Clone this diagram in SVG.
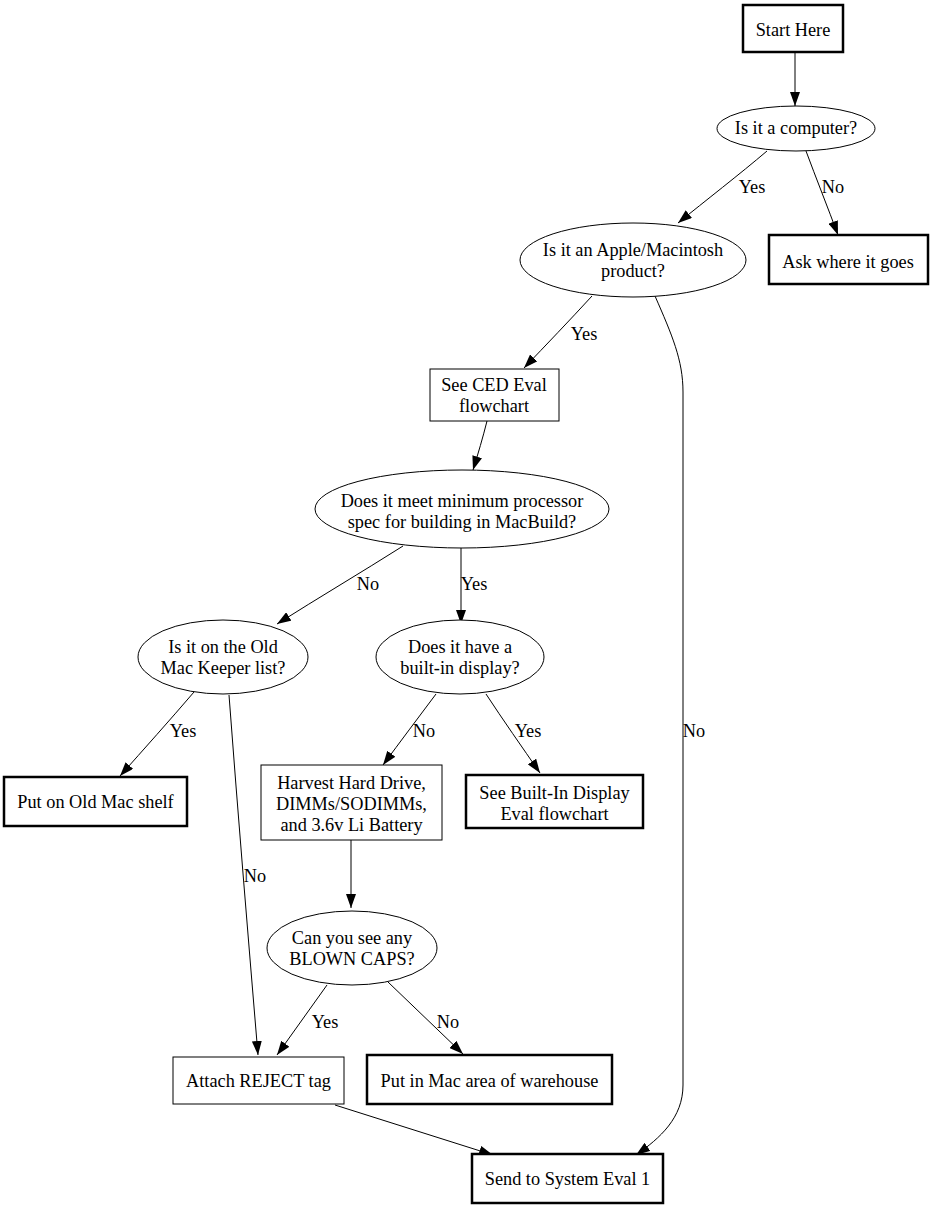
<svg xmlns="http://www.w3.org/2000/svg" width="933" height="1208" viewBox="0 0 933 1208">
<style>
text{font-family:"Liberation Serif","Times New Roman",serif;font-size:18.3px;fill:#000;text-anchor:middle}
.n{fill:#fff;stroke:#000;stroke-width:1}
.t{fill:#fff;stroke:#000;stroke-width:2.5}
.e{fill:none;stroke:#000;stroke-width:1}
</style>
<defs>
<marker id="ah" markerUnits="userSpaceOnUse" markerWidth="14" markerHeight="10" refX="14" refY="5" orient="auto">
<path d="M0,0 L14,5 L0,10 z" fill="#000"/>
</marker>
</defs>
<rect width="933" height="1208" fill="#fff"/>
<g id="edges">
<path class="e" marker-end="url(#ah)" d="M795,52 L795,106"/>
<path class="e" marker-end="url(#ah)" d="M767,151 C740,174 705,201 678,223"/>
<text x="752" y="193">Yes</text>
<path class="e" marker-end="url(#ah)" d="M806,151 C816,178 828,208 838,235"/>
<text x="833" y="193">No</text>
<path class="e" marker-end="url(#ah)" d="M592,296 C570,320 546,345 524,368"/>
<text x="584" y="340">Yes</text>
<path class="e" marker-end="url(#ah)" d="M655,296 C672,335 683,360 683,392 L683,1085 C683,1118 660,1138 636,1155"/>
<text x="694" y="737">No</text>
<path class="e" marker-end="url(#ah)" d="M487,421 C483,437 478,454 473,470"/>
<path class="e" marker-end="url(#ah)" d="M403,546 C362,572 318,598 277,624"/>
<text x="368" y="590">No</text>
<path class="e" marker-end="url(#ah)" d="M461,548 L461,624"/>
<text x="474" y="590">Yes</text>
<path class="e" marker-end="url(#ah)" d="M194,692 C170,720 144,749 120,776"/>
<text x="183" y="737">Yes</text>
<path class="e" marker-end="url(#ah)" d="M229,695 C238,815 248,935 258,1055"/>
<text x="255" y="882">No</text>
<path class="e" marker-end="url(#ah)" d="M436,694 C418,718 400,742 383,765"/>
<text x="424" y="737">No</text>
<path class="e" marker-end="url(#ah)" d="M486,694 C503,720 522,747 540,773"/>
<text x="528" y="737">Yes</text>
<path class="e" marker-end="url(#ah)" d="M351,840 L351,908"/>
<path class="e" marker-end="url(#ah)" d="M327,985 C310,1008 294,1032 277,1055"/>
<text x="325" y="1028">Yes</text>
<path class="e" marker-end="url(#ah)" d="M388,982 C413,1006 438,1030 463,1054"/>
<text x="448" y="1028">No</text>
<path class="e" marker-end="url(#ah)" d="M335,1105 C388,1122 440,1138 493,1155"/>
</g>
<g id="start"><rect class="t" x="743" y="5" width="100" height="47"/><text x="793" y="36">Start Here</text></g>
<g id="computer"><ellipse class="n" cx="796" cy="128.5" rx="79" ry="22.5"/><text x="796" y="134">Is it a computer?</text></g>
<g id="apple"><ellipse class="n" cx="633" cy="260" rx="113" ry="37"/><text x="633" y="256">Is it an Apple/Macintosh</text><text x="633" y="277">product?</text></g>
<g id="ask"><rect class="t" x="769" y="235" width="159" height="49"/><text x="848" y="268">Ask where it goes</text></g>
<g id="ced"><rect class="n" x="430" y="369" width="129" height="52"/><text x="494" y="391">See CED Eval</text><text x="494" y="412">flowchart</text></g>
<g id="proc"><ellipse class="n" cx="462" cy="509" rx="147" ry="39"/><text x="462" y="507">Does it meet minimum processor</text><text x="462" y="528">spec for building in MacBuild?</text></g>
<g id="oldmac"><ellipse class="n" cx="223" cy="657" rx="85" ry="37"/><text x="223" y="653">Is it on the Old</text><text x="223" y="674">Mac Keeper list?</text></g>
<g id="display"><ellipse class="n" cx="460" cy="657" rx="84" ry="37"/><text x="460" y="653">Does it have a</text><text x="460" y="674">built-in display?</text></g>
<g id="shelf"><rect class="t" x="4" y="777" width="183" height="49"/><text x="95.5" y="808">Put on Old Mac shelf</text></g>
<g id="harvest"><rect class="n" x="261" y="765" width="181" height="75"/><text x="351.5" y="789">Harvest Hard Drive,</text><text x="351.5" y="810">DIMMs/SODIMMs,</text><text x="351.5" y="831">and 3.6v Li Battery</text></g>
<g id="builtin"><rect class="t" x="466" y="775" width="177" height="53"/><text x="554.5" y="799">See Built-In Display</text><text x="554.5" y="820">Eval flowchart</text></g>
<g id="caps"><ellipse class="n" cx="352" cy="948" rx="85" ry="37"/><text x="352" y="944">Can you see any</text><text x="352" y="965">BLOWN CAPS?</text></g>
<g id="reject"><rect class="n" x="173" y="1057" width="171" height="47"/><text x="258.5" y="1087">Attach REJECT tag</text></g>
<g id="macarea"><rect class="t" x="367" y="1055" width="245" height="49"/><text x="489.5" y="1087">Put in Mac area of warehouse</text></g>
<g id="eval1"><rect class="t" x="472" y="1154" width="191" height="49"/><text x="567.5" y="1185">Send to System Eval 1</text></g>
</svg>
